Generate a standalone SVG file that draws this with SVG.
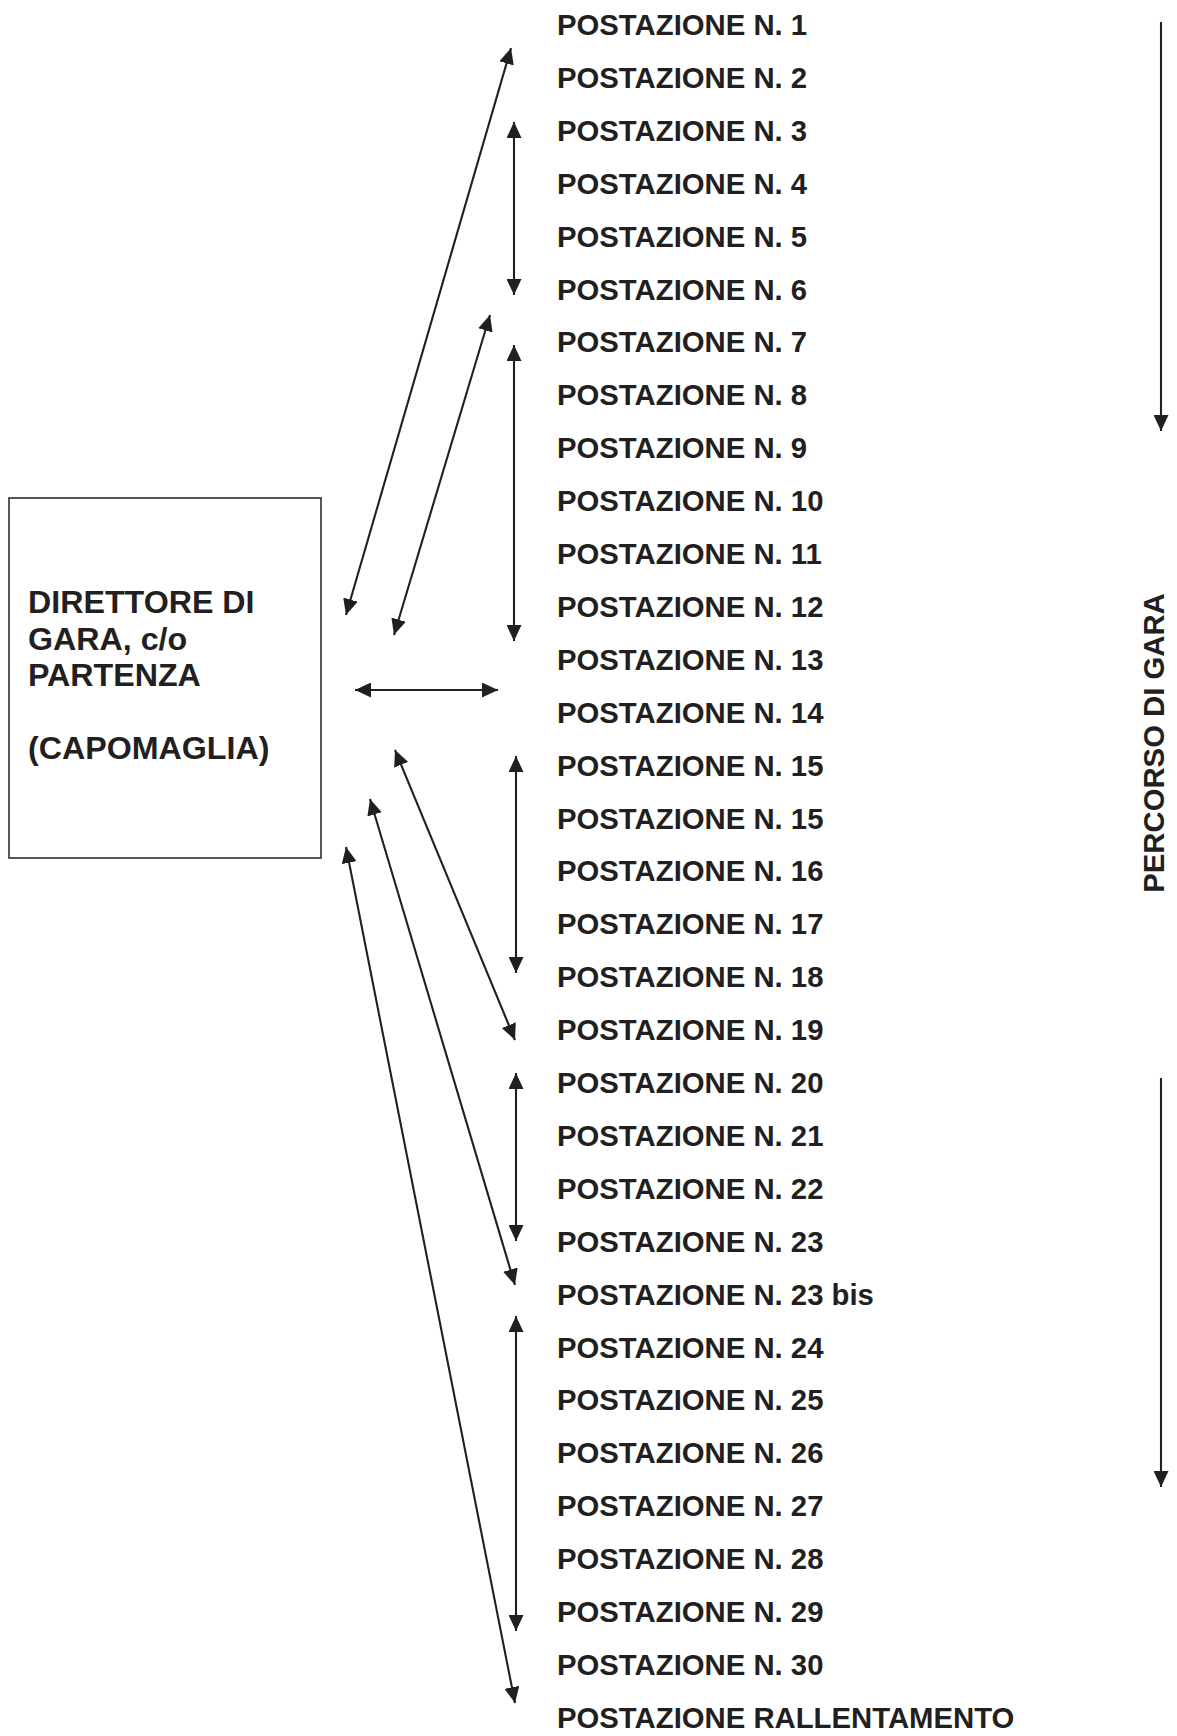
<svg xmlns="http://www.w3.org/2000/svg" width="1177" height="1736" viewBox="0 0 1177 1736">
<style>
  .t { font-family: "Liberation Sans", Arial, sans-serif; font-weight: bold; font-size: 29.3px; fill: #231f20; }
  .bt { font-family: "Liberation Sans", Arial, sans-serif; font-weight: bold; font-size: 32.2px; fill: #231f20; }
  .c { stroke: #231f20; stroke-width: 2.1; fill: none; }
  .d { marker-start: url(#ah); marker-end: url(#ah); }
  .s { marker-end: url(#ah); }
</style>
<defs>
  <marker id="ah" viewBox="0 0 16 15" refX="16" refY="7.5" markerWidth="16" markerHeight="15" markerUnits="userSpaceOnUse" orient="auto-start-reverse">
    <path d="M0,0 L16,7.5 L0,15 z" fill="#231f20"/>
  </marker>
</defs>
<rect width="1177" height="1736" fill="#ffffff"/>

<g id="direttore">
  <rect x="9" y="498" width="312" height="360" fill="none" stroke="#231f20" stroke-width="1.5"/>
  <text class="bt" x="28" y="613">DIRETTORE DI</text>
  <text class="bt" x="28" y="649.5">GARA, c/o</text>
  <text class="bt" x="28" y="686">PARTENZA</text>
  <text class="bt" x="28" y="759">(CAPOMAGLIA)</text>
</g>

<g id="postazioni">
  <g id="p1"><text class="t" x="557" y="35">POSTAZIONE N. 1</text></g>
  <g id="p2"><text class="t" x="557" y="87.9">POSTAZIONE N. 2</text></g>
  <g id="p3"><text class="t" x="557" y="140.8">POSTAZIONE N. 3</text></g>
  <g id="p4"><text class="t" x="557" y="193.7">POSTAZIONE N. 4</text></g>
  <g id="p5"><text class="t" x="557" y="246.6">POSTAZIONE N. 5</text></g>
  <g id="p6"><text class="t" x="557" y="299.5">POSTAZIONE N. 6</text></g>
  <g id="p7"><text class="t" x="557" y="352.4">POSTAZIONE N. 7</text></g>
  <g id="p8"><text class="t" x="557" y="405.3">POSTAZIONE N. 8</text></g>
  <g id="p9"><text class="t" x="557" y="458.2">POSTAZIONE N. 9</text></g>
  <g id="p10"><text class="t" x="557" y="511.1">POSTAZIONE N. 10</text></g>
  <g id="p11"><text class="t" x="557" y="564">POSTAZIONE N. 11</text></g>
  <g id="p12"><text class="t" x="557" y="616.9">POSTAZIONE N. 12</text></g>
  <g id="p13"><text class="t" x="557" y="669.8">POSTAZIONE N. 13</text></g>
  <g id="p14"><text class="t" x="557" y="722.7">POSTAZIONE N. 14</text></g>
  <g id="p15a"><text class="t" x="557" y="775.6">POSTAZIONE N. 15</text></g>
  <g id="p15b"><text class="t" x="557" y="828.5">POSTAZIONE N. 15</text></g>
  <g id="p16"><text class="t" x="557" y="881.4">POSTAZIONE N. 16</text></g>
  <g id="p17"><text class="t" x="557" y="934.3">POSTAZIONE N. 17</text></g>
  <g id="p18"><text class="t" x="557" y="987.2">POSTAZIONE N. 18</text></g>
  <g id="p19"><text class="t" x="557" y="1040.1">POSTAZIONE N. 19</text></g>
  <g id="p20"><text class="t" x="557" y="1093">POSTAZIONE N. 20</text></g>
  <g id="p21"><text class="t" x="557" y="1145.9">POSTAZIONE N. 21</text></g>
  <g id="p22"><text class="t" x="557" y="1198.8">POSTAZIONE N. 22</text></g>
  <g id="p23"><text class="t" x="557" y="1251.7">POSTAZIONE N. 23</text></g>
  <g id="p23bis"><text class="t" x="557" y="1304.6">POSTAZIONE N. 23 bis</text></g>
  <g id="p24"><text class="t" x="557" y="1357.5">POSTAZIONE N. 24</text></g>
  <g id="p25"><text class="t" x="557" y="1410.4">POSTAZIONE N. 25</text></g>
  <g id="p26"><text class="t" x="557" y="1463.3">POSTAZIONE N. 26</text></g>
  <g id="p27"><text class="t" x="557" y="1516.2">POSTAZIONE N. 27</text></g>
  <g id="p28"><text class="t" x="557" y="1569.1">POSTAZIONE N. 28</text></g>
  <g id="p29"><text class="t" x="557" y="1622">POSTAZIONE N. 29</text></g>
  <g id="p30"><text class="t" x="557" y="1674.9">POSTAZIONE N. 30</text></g>
  <g id="prall"><text class="t" x="557" y="1727.8">POSTAZIONE RALLENTAMENTO</text></g>
</g>

<g id="percorso">
  <text class="t" transform="translate(1164,743) rotate(-90)" text-anchor="middle">PERCORSO DI GARA</text>
</g>

<g id="connectors">
  <line class="c d" x1="346" y1="615" x2="511" y2="48"/>
  <line class="c d" x1="514" y1="122" x2="514" y2="295"/>
  <line class="c d" x1="394" y1="635" x2="490" y2="315"/>
  <line class="c d" x1="514" y1="345" x2="514" y2="641"/>
  <line class="c d" x1="355" y1="690" x2="498" y2="690"/>
  <line class="c d" x1="395" y1="750" x2="515" y2="1040"/>
  <line class="c d" x1="516" y1="756" x2="516" y2="973"/>
  <line class="c d" x1="370" y1="799" x2="515" y2="1285"/>
  <line class="c d" x1="516" y1="1073" x2="516" y2="1241"/>
  <line class="c d" x1="346" y1="847" x2="515" y2="1703"/>
  <line class="c d" x1="516" y1="1316" x2="516" y2="1631"/>
  <line class="c s" x1="1161" y1="22" x2="1161" y2="431"/>
  <line class="c s" x1="1161" y1="1078" x2="1161" y2="1487"/>
</g>
</svg>
